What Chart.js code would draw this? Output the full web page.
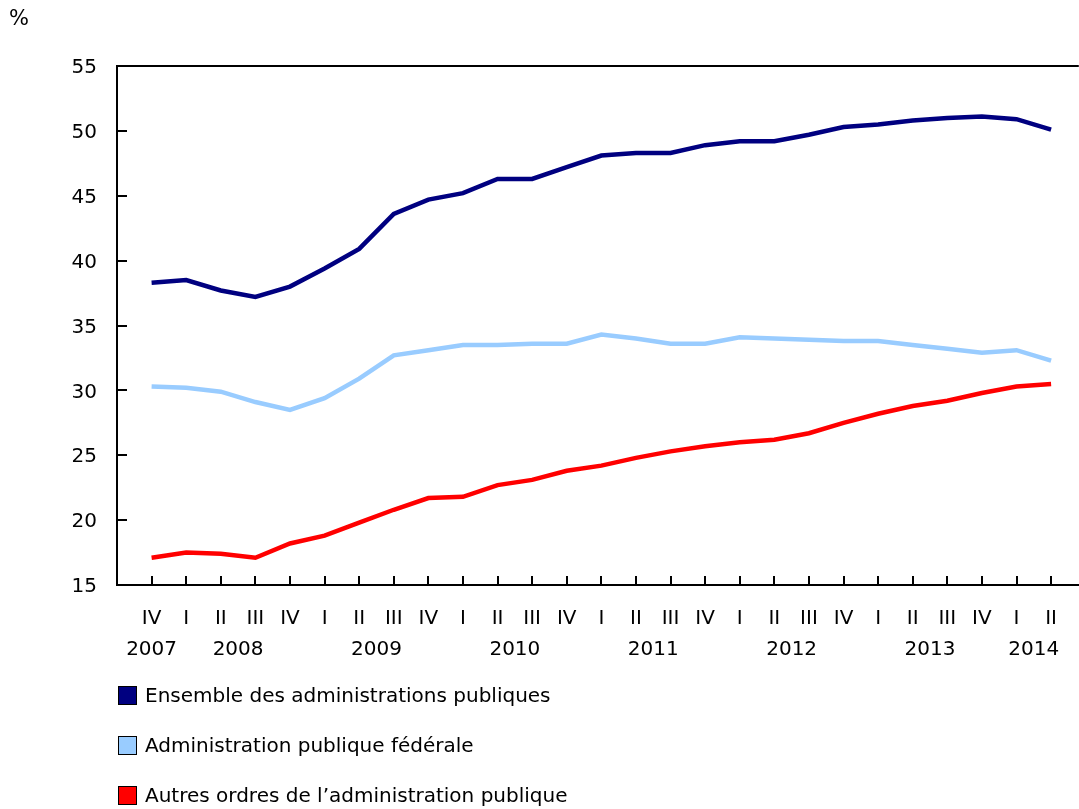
<!DOCTYPE html>
<html>
<head>
<meta charset="utf-8">
<script src="https://cdn.jsdelivr.net/npm/chart.js@4"></script>
<style>
  body { margin: 0; background: #fff; font-family: "DejaVu Sans", Verdana, sans-serif; }
  #wrap { position: relative; width: 1079px; height: 809px; }
  #unit { position: absolute; left: 9px; top: 6px; font-size: 21px; color: #000; }
  #legend { position: absolute; left: 118px; top: 683px; }
  .item { display: flex; align-items: center; height: 24px; margin-bottom: 26px; font-size: 20px; color: #000; }
  .box { width: 17px; height: 17px; border: 1.5px solid #000; margin-right: 8px; }
</style>
</head>
<body>
<div id="wrap">
  <canvas id="chart" width="1079" height="809"></canvas>
  <div id="unit">%</div>
  <div id="legend"></div>
</div>
<script>
// quarters IV 2007 .. II 2014
const quarters = ["IV", "I", "II", "III", "IV", "I", "II", "III", "IV", "I", "II", "III", "IV",
  "I", "II", "III", "IV", "I", "II", "III", "IV", "I", "II", "III", "IV", "I", "II"];
const years = [2007, 2008, 2008, 2008, 2008, 2009, 2009, 2009, 2009, 2010, 2010, 2010, 2010,
  2011, 2011, 2011, 2011, 2012, 2012, 2012, 2012, 2013, 2013, 2013, 2013, 2014, 2014];

const ensemble = [38.3, 38.5, 37.7, 37.2, 38.0, 39.4, 40.9, 43.6, 44.7, 45.2, 46.3, 46.3, 47.2,
  48.1, 48.3, 48.3, 48.9, 49.2, 49.2, 49.7, 50.3, 50.5, 50.8, 51.0, 51.1, 50.9, 50.1];
const federale = [30.3, 30.2, 29.9, 29.1, 28.5, 29.4, 30.9, 32.7, 33.1, 33.5, 33.5, 33.6, 33.6,
  34.3, 34.0, 33.6, 33.6, 34.1, 34.0, 33.9, 33.8, 33.8, 33.5, 33.2, 32.9, 33.1, 32.3];
const autres = [17.1, 17.5, 17.4, 17.1, 18.2, 18.8, 19.8, 20.8, 21.7, 21.8, 22.7, 23.1, 23.8,
  24.2, 24.8, 25.3, 25.7, 26.0, 26.2, 26.7, 27.5, 28.2, 28.8, 29.2, 29.8, 30.3, 30.5];

const seriesNames = ["Ensemble des administrations publiques", "Administration publique fédérale",
  "Autres ordres de l’administration publique"];
const yTicks = [15, 20, 25, 30, 35, 40, 45, 50, 55];

// year label sits in the middle of its quarters
const yearNames = [...new Set(years)];
const yearCenters = yearNames.map(y => {
  const idx = years.map((v, i) => v === y ? i : -1).filter(i => i >= 0);
  return idx.reduce((a, b) => a + b, 0) / idx.length;
});

const font = { family: "DejaVu Sans", size: 20 };

function pts(arr) {
  return arr.map((v, i) => ({ x: i, y: v }));
}

// inward tick marks + top frame line
const innerTicks = {
  id: "innerTicks",
  afterDraw(chart) {
    const { ctx, chartArea, scales } = chart;
    ctx.save();
    ctx.strokeStyle = "#000";
    ctx.lineWidth = 2;
    ctx.beginPath();
    ctx.moveTo(chartArea.left - 1, chartArea.top);
    ctx.lineTo(chartArea.right, chartArea.top);
    quarters.forEach((q, i) => {
      const x = Math.round(scales.x.getPixelForValue(i));
      ctx.moveTo(x, chartArea.bottom);
      ctx.lineTo(x, chartArea.bottom - 9);
    });
    yTicks.forEach(v => {
      const y = Math.round(scales.y.getPixelForValue(v));
      ctx.moveTo(chartArea.left, y);
      ctx.lineTo(chartArea.left + 10, y);
    });
    ctx.stroke();
    ctx.restore();
  }
};

const chart = new Chart(document.getElementById("chart"), {
  type: "line",
  data: {
    datasets: [
      { label: seriesNames[0], data: pts(ensemble), borderColor: "#000080", backgroundColor: "#000080" },
      { label: seriesNames[1], data: pts(federale), borderColor: "#99ccff", backgroundColor: "#99ccff" },
      { label: seriesNames[2], data: pts(autres), borderColor: "#ff0000", backgroundColor: "#ff0000" },
    ],
  },
  options: {
    responsive: false,
    animation: false,
    devicePixelRatio: 1,
    layout: { padding: { top: 66, left: 0, right: 0, bottom: 144 } },
    elements: {
      line: { borderWidth: 4.5, tension: 0 },
      point: { radius: 0 },
    },
    plugins: { legend: { display: false }, tooltip: { enabled: false } },
    scales: {
      x: {
        type: "linear",
        min: -1,
        max: 26.8,
        grid: { display: false, drawTicks: false },
        border: { display: true, color: "#000", width: 2 },
        afterBuildTicks: s => { s.ticks = quarters.map((q, i) => ({ value: i })); },
        afterFit: s => { s.height = 45; },
        ticks: {
          autoSkip: false, maxRotation: 0, padding: 22, color: "#000", font,
          callback: v => quarters[v],
        },
      },
      years: {
        type: "linear",
        position: "bottom",
        min: -1,
        max: 26.8,
        grid: { display: false, drawTicks: false },
        border: { display: false },
        afterBuildTicks: s => { s.ticks = yearCenters.map(c => ({ value: c })); },
        afterFit: s => { s.height = 35; },
        ticks: {
          autoSkip: false, maxRotation: 0, padding: 8, color: "#000", font,
          callback: v => yearNames[yearCenters.indexOf(v)],
        },
      },
      y: {
        min: 15,
        max: 55,
        grid: { display: false, drawTicks: false },
        border: { display: true, color: "#000", width: 2 },
        afterBuildTicks: s => { s.ticks = yTicks.map(v => ({ value: v })); },
        afterFit: s => { s.width = 117; },
        ticks: { padding: 20, labelOffset: 2, color: "#000", font },
      },
    },
  },
  plugins: [innerTicks],
});

// legend built from the datasets
const legend = document.getElementById("legend");
chart.data.datasets.forEach(ds => {
  const item = document.createElement("div");
  item.className = "item";
  const box = document.createElement("span");
  box.className = "box";
  box.style.background = ds.borderColor;
  item.appendChild(box);
  item.appendChild(document.createTextNode(ds.label));
  legend.appendChild(item);
});
</script>
</body>
</html>
